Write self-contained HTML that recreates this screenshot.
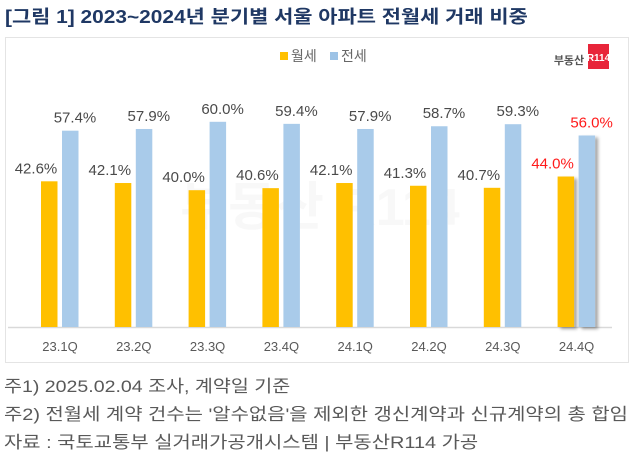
<!DOCTYPE html>
<html><head><meta charset="utf-8"><style>
body{margin:0;width:640px;height:459px;background:#fff;overflow:hidden;font-family:"Liberation Sans","Noto Sans CJK KR",sans-serif;position:relative}
.t{position:absolute;white-space:nowrap;transform-origin:0 0}
</style></head><body>
<div class="t" style="left:5px;top:3px;font-size:18px;font-weight:bold;color:#1f3864;transform:scaleX(1.16)">[그림 1] 2023~2024년 분기별 서울 아파트 전월세 거래 비중</div>
<div style="position:absolute;left:5px;top:37px;width:622px;height:324px;border:1px solid #e4e4e4"></div>
<svg id="c" width="640" height="459" style="position:absolute;left:0;top:0">
<defs><filter id="sh" x="-50%" y="-10%" width="200%" height="120%"><feDropShadow dx="3" dy="2" stdDeviation="1.5" flood-color="#000" flood-opacity="0.35"/></filter></defs>
<g>
<rect x="280" y="52" width="8" height="8" fill="#ffc000"/><text x="291" y="61" font-size="14" fill="#666">월세</text>
<rect x="330" y="52" width="8" height="8" fill="#9dc3e6"/><text x="341" y="61" font-size="14" fill="#666">전세</text>
</g>
<g>
<text x="569" y="64" font-size="11" fill="#555" text-anchor="middle" font-weight="bold">부동산</text>
<rect x="588" y="44" width="21" height="25" fill="#e8253a"/><text x="598.5" y="61" font-size="10" fill="#fff" text-anchor="middle" font-weight="bold">R114</text>
</g>
<text x="320" y="225" font-size="52" fill="#f8f8f8" text-anchor="middle" font-weight="bold">부동산 R114</text>
<line x1="8" y1="327.5" x2="612" y2="327.5" stroke="#d9d9d9" stroke-width="1.5"/>
<g id="bars"></g>
</svg>
<div class="t" style="left:4px;top:372px;font-size:17px;color:#595959;transform:scaleX(1.15)">주1) 2025.02.04 조사, 계약일 기준</div>
<div class="t" style="left:4px;top:400px;font-size:17px;color:#595959;transform:scaleX(1.17)">주2) 전월세 계약 건수는 '알수없음'을 제외한 갱신계약과 신규계약의 총 합임</div>
<div class="t" style="left:4px;top:428px;font-size:17px;color:#595959;transform:scaleX(1.17)">자료 : 국토교통부 실거래가공개시스템 | 부동산R114 가공</div>
<script>
const categories=["23.1Q","23.2Q","23.3Q","23.4Q","24.1Q","24.2Q","24.3Q","24.4Q"];
const wolse=[42.6,42.1,40.0,40.6,42.1,41.3,40.7,44.0];
const jeonse=[57.4,57.9,60.0,59.4,57.9,58.7,59.3,56.0];
const NS="http://www.w3.org/2000/svg";
const g=document.getElementById('bars');
const base=327,k=3.42;
const y=v=>base-v*k;
const cx=i=>60+i*73.8;
function mk(t,a){const e=document.createElementNS(NS,t);for(const n in a)e.setAttribute(n,a[n]);g.appendChild(e);return e;}
categories.forEach((c,i)=>{
  const last=i===categories.length-1;
  const r1=mk('rect',{x:cx(i)-19,y:y(wolse[i]),width:16.5,height:wolse[i]*k,fill:'#ffc000'});
  
  
  const r2=mk('rect',{x:cx(i)+2,y:y(jeonse[i]),width:16.5,height:jeonse[i]*k,fill:'#a9cbea'});
  
  
  if(last){r1.setAttribute('filter','url(#sh)');r2.setAttribute('filter','url(#sh)');}
  const t1=mk('text',{x:cx(i)-24,y:y(wolse[i])-8,'font-size':15,fill:last?'#ff1a1a':'#4a4a4a','text-anchor':'middle'});
  t1.textContent=wolse[i].toFixed(1)+'%';
  
  
  const t2=mk('text',{x:cx(i)+15,y:y(jeonse[i])-8,'font-size':15,fill:last?'#ff1a1a':'#4a4a4a','text-anchor':'middle'});
  t2.textContent=jeonse[i].toFixed(1)+'%';
  
  
  const t3=mk('text',{x:cx(i),y:351,'font-size':13,fill:'#595959','text-anchor':'middle'});
  t3.textContent=c;
  
  
});
</script>
</body></html>
